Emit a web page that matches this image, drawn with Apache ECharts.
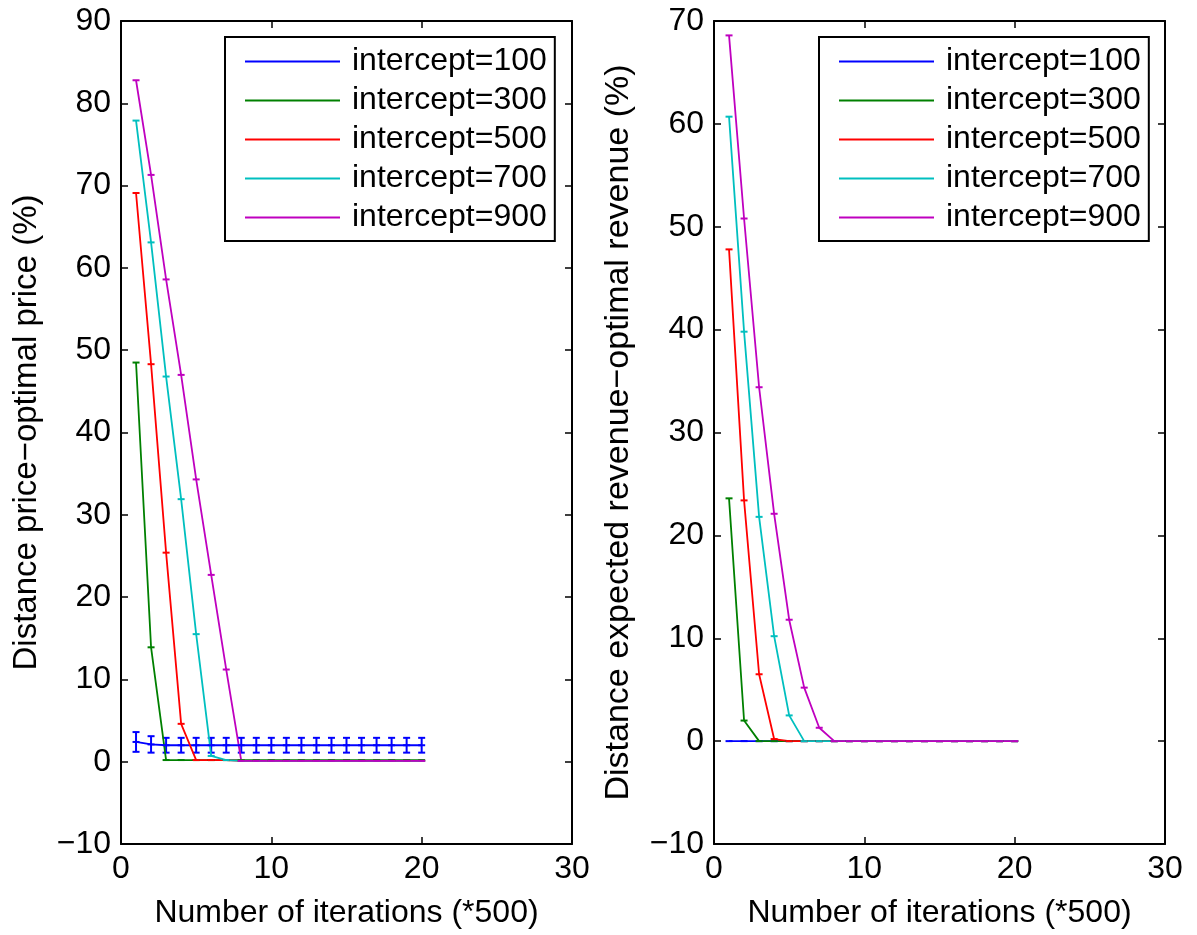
<!DOCTYPE html>
<html>
<head>
<meta charset="utf-8"/>
<title>Distance to optimum</title>
<script src="https://cdn.jsdelivr.net/npm/echarts/dist/echarts.min.js"></script>
<style>
	body { margin: 0; padding: 0; background: #fff; }
	#chart { width: 1197px; height: 935px; }
</style>
</head>
<body>
<div id="chart"></div>
<script type="text/javascript">
	// iterations (*500)
	var iterations = [1,2,3,4,5,6,7,8,9,10,11,12,13,14,15,16,17,18,19,20];
	var seriesNames = ['intercept=100','intercept=300','intercept=500','intercept=700','intercept=900'];
	var seriesColors = ['#0000ff','#008000','#ff0000','#00bfbf','#bf00bf'];

	// left: distance price-optimal price (%)
	var priceI100 = [2.4,2.1,2.0,2.0,2.0,2.0,2.0,2.0,2.0,2.0,2.0,2.0,2.0,2.0,2.0,2.0,2.0,2.0,2.0,2.0];
	var priceI100Err = [1.2,1.0,0.9,0.9,0.9,0.9,0.9,0.9,0.9,0.9,0.9,0.9,0.9,0.9,0.9,0.9,0.9,0.9,0.9,0.9];
	var priceI300 = [48.5,13.9,0.2,0.2,0.2,0.2,0.2,0.2,0.2,0.2,0.2,0.2,0.2,0.2,0.2,0.2,0.2,0.2,0.2,0.2];
	var priceI500 = [69.1,48.3,25.4,4.6,0.2,0.2,0.2,0.1,0.1,0.1,0.1,0.1,0.1,0.1,0.1,0.1,0.1,0.1,0.1,0.1];
	var priceI700 = [77.9,63.1,46.8,31.9,15.5,0.7,0.2,0.1,0.1,0.1,0.1,0.1,0.1,0.1,0.1,0.1,0.1,0.1,0.1,0.1];
	var priceI900 = [82.8,71.3,58.6,47.0,34.3,22.7,11.2,0.1,0.1,0.1,0.1,0.1,0.1,0.1,0.1,0.1,0.1,0.1,0.1,0.1];

	// right: distance expected revenue-optimal revenue (%)
	var revI100 = [0,0,0,0,0,0,0,0,0,0,0,0,0,0,0,0,0,0,0,0];
	var revI300 = [23.6,2.0,0,0,0,0,0,0,0,0,0,0,0,0,0,0,0,0,0,0];
	var revI500 = [47.8,23.4,6.5,0.2,0,0,0,0,0,0,0,0,0,0,0,0,0,0,0,0];
	var revI700 = [60.7,39.8,21.8,10.2,2.5,0,0,0,0,0,0,0,0,0,0,0,0,0,0,0];
	var revI900 = [68.6,50.8,34.4,22.1,11.8,5.2,1.3,0,0,0,0,0,0,0,0,0,0,0,0,0];

	var xTicks = [0, 30, 10];          // min, max, interval
	var leftYTicks = [-10, 90, 10];
	var rightYTicks = [-10, 70, 10];

	var font = '"Liberation Sans", Arial, Helvetica, sans-serif';
	var fs = 32;

	function minusFmt(v){
		return String(v).replace('-', '\u2212');
	}
	function pairs(ys){
		var arr = [];
		for(var i=0;i<iterations.length;i++){
			arr.push([iterations[i], ys[i]]);
		}
		return arr;
	}
	function errTriples(ys, es){
		var arr = [];
		for(var i=0;i<iterations.length;i++){
			arr.push([iterations[i], ys[i], es[i]]);
		}
		return arr;
	}
	// four axes per grid: bottom/top x, left/right y (box with inner ticks)
	function xAxes(g, name){
		var base = function(pos, showLabel){
			return {
				type: 'value', gridIndex: g, position: pos,
				min: xTicks[0], max: xTicks[1], interval: xTicks[2],
				axisLine: { show: true, onZero: false, lineStyle: { color: '#000', width: 2 } },
				axisTick: { show: true, inside: true, length: 7, lineStyle: { color: '#000', width: 1.5 } },
				axisLabel: { show: showLabel, fontSize: fs, color: '#000', fontFamily: font, margin: 9 },
				splitLine: { show: false }
			};
		};
		var b = base('bottom', true);
		b.name = name;
		b.nameLocation = 'middle';
		b.nameGap = 53;
		b.nameTextStyle = { fontSize: fs, color: '#000', fontFamily: font };
		return [b, base('top', false)];
	}
	function yAxes(g, ticks, name, nameSize){
		var base = function(pos, showLabel){
			return {
				type: 'value', gridIndex: g, position: pos,
				min: ticks[0], max: ticks[1], interval: ticks[2],
				axisLine: { show: true, onZero: false, lineStyle: { color: '#000', width: 2 } },
				axisTick: { show: true, inside: true, length: 7, lineStyle: { color: '#000', width: 1.5 } },
				axisLabel: { show: showLabel, fontSize: fs, color: '#000', fontFamily: font, margin: 10, formatter: minusFmt },
				splitLine: { show: false }
			};
		};
		var l = base('left', true);
		l.name = name;
		l.nameLocation = 'middle';
		l.nameGap = 78;
		l.nameTextStyle = { fontSize: nameSize, color: '#000', fontFamily: font };
		return [l, base('right', false)];
	}
	function lineSeries(name, color, ys, xi, yi){
		return {
			name: name, type: 'line', xAxisIndex: xi, yAxisIndex: yi,
			data: pairs(ys),
			symbol: 'rect', symbolSize: [7, 2], showAllSymbol: true,
			itemStyle: { color: color },
			lineStyle: { color: color, width: 1.8 },
			animation: false
		};
	}
	// error bars
	function errorSeries(name, color, ys, es, xi, yi){
		return {
			name: name + ' err', type: 'custom', xAxisIndex: xi, yAxisIndex: yi,
			data: errTriples(ys, es),
			renderItem: function(params, api){
				var x = api.value(0), y = api.value(1), e = api.value(2);
				var hi = api.coord([x, y + e]);
				var lo = api.coord([x, y - e]);
				var w = 3.5;
				var st = { stroke: color, lineWidth: 2 };
				return {
					type: 'group',
					children: [
						{ type: 'line', shape: { x1: hi[0], y1: hi[1], x2: lo[0], y2: lo[1] }, style: st },
						{ type: 'line', shape: { x1: hi[0]-w, y1: hi[1], x2: hi[0]+w, y2: hi[1] }, style: st },
						{ type: 'line', shape: { x1: lo[0]-w, y1: lo[1], x2: lo[0]+w, y2: lo[1] }, style: st }
					]
				};
			},
			animation: false
		};
	}
	function legendAt(left){
		return {
			orient: 'vertical', left: left, top: 37,
			data: seriesNames, icon: 'rect',
			itemWidth: 95, itemHeight: 2, itemGap: 0,
			padding: [5, 8, 4, 20],
			borderColor: '#000', borderWidth: 2, backgroundColor: '#fff',
			selectedMode: false,
			textStyle: { fontSize: fs, lineHeight: 39, color: '#000', fontFamily: font, padding: [0, 0, 0, 7] }
		};
	}

	var xa = xAxes(0, 'Number of iterations (*500)').concat(xAxes(1, 'Number of iterations (*500)'));
	var ya = yAxes(0, leftYTicks, 'Distance price\u2212optimal price (%)', 33).concat(yAxes(1, rightYTicks, 'Distance expected revenue\u2212optimal revenue (%)', 34));

	var leftData = [priceI100, priceI300, priceI500, priceI700, priceI900];
	var rightData = [revI100, revI300, revI500, revI700, revI900];
	var series = [];
	series.push(errorSeries(seriesNames[0], seriesColors[0], priceI100, priceI100Err, 0, 0));
	for(var i=0;i<seriesNames.length;i++){
		series.push(lineSeries(seriesNames[i], seriesColors[i], leftData[i], 0, 0));
	}
	for(var j=0;j<seriesNames.length;j++){
		series.push(lineSeries(seriesNames[j], seriesColors[j], rightData[j], 2, 2));
	}

	var option = {
		backgroundColor: '#fff',
		animation: false,
		textStyle: { fontFamily: font },
		grid: [
			{ left: 121, top: 21, width: 451, height: 823 },
			{ left: 714, top: 21, width: 451, height: 823 }
		],
		legend: [legendAt(225), legendAt(819)],
		xAxis: xa,
		yAxis: ya,
		series: series
	};
	var myChart = echarts.init(document.getElementById('chart'));
	myChart.setOption(option);
</script>
</body>
</html>
